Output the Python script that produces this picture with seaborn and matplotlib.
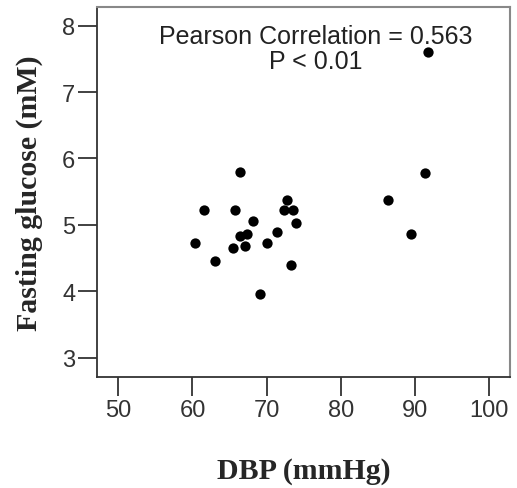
import matplotlib
matplotlib.use("Agg")
import matplotlib.pyplot as plt
import seaborn as sns
import pandas as pd

dbp = [66.4, 61.6, 65.7, 72.7, 72.3, 73.6, 68.1, 73.9, 66.4, 67.4, 71.4,
       60.4, 65.4, 67.1, 70.0, 63.0, 73.3, 69.1, 86.4, 91.4, 89.5, 91.8]
glucose = [5.80, 5.22, 5.22, 5.37, 5.22, 5.23, 5.06, 5.03, 4.83, 4.87, 4.89,
           4.72, 4.65, 4.68, 4.73, 4.46, 4.39, 3.96, 5.38, 5.78, 4.87, 7.60]
x_ticks = [50, 60, 70, 80, 90, 100]
y_ticks = [3, 4, 5, 6, 7, 8]

df = pd.DataFrame({"DBP": dbp, "Glucose": glucose})

sns.set_style("white")
plt.rcParams["font.family"] = ["Liberation Sans", "DejaVu Sans"]

fig = plt.figure(figsize=(5.17, 4.89), dpi=100)
ax = fig.add_axes([97/517, 1-378/489, (510-97)/517, (378-8)/489])

sns.scatterplot(data=df, x="DBP", y="Glucose", ax=ax, color="black",
                s=55, edgecolor="black", linewidth=0)

ax.set_xlim(47.13, 102.8)
ax.set_ylim(2.71, 8.28)
ax.set_xticks(x_ticks)
ax.set_yticks(y_ticks)
ax.tick_params(axis="both", direction="out", length=14, width=1.3,
               color="#333333", labelsize=17, labelcolor="#333333", pad=1.5,
               left=True, bottom=True)

for side in ["left", "bottom"]:
    ax.spines[side].set_color("#333333")
    ax.spines[side].set_linewidth(1.3)
for side in ["top", "right"]:
    ax.spines[side].set_color("#888888")
    ax.spines[side].set_linewidth(1.5)

ax.set_xlabel("DBP (mmHg)", fontfamily="Liberation Serif", fontweight="bold",
              fontsize=21.5, labelpad=26)
ax.set_ylabel("Fasting glucose (mM)", fontfamily="Liberation Serif",
              fontweight="bold", fontsize=21.5, labelpad=14)

ax.text(0.53, 0.955, "Pearson Correlation = 0.563\nP < 0.01",
        transform=ax.transAxes, ha="center", va="top", fontsize=18,
        color="#222222", linespacing=1.05)

fig.savefig("out.png", dpi=100)
